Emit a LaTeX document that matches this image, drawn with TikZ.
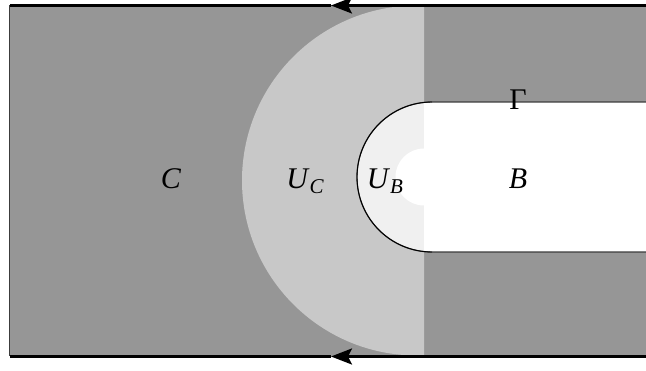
\documentclass[tikz,border=0pt]{standalone}
\usepackage{fontspec}
\setmainfont{Liberation Serif}
\usetikzlibrary{arrows.meta}
\definecolor{outer}{HTML}{969696}
\definecolor{nbhdC}{HTML}{C8C8C8}
\definecolor{nbhdB}{HTML}{F0F0F0}
\definecolor{edge}{HTML}{3C3C3C}
\newcommand{\sublbl}[2]{\textit{#1}\raisebox{-5pt}{\fontsize{21}{24}\selectfont\textit{#2}}}
\tikzset{bdry/.style={draw=black,line width=2.5pt},flowtip/.style={-{Stealth[length=21pt,width=16pt,inset=4pt]}},gammaline/.style={draw=edge,line width=1.2pt},tag/.style={font=\fontsize{30}{34}\selectfont,inner sep=0pt,anchor=base}}

\begin{document}
\begin{tikzpicture}[x=1pt,y=-1pt]
\useasboundingbox (0,0) rectangle (646,371);
% regions
\fill[outer] (9.5,5.5) rectangle (646,356.5);
\begin{scope}
\clip (9.5,5.5) rectangle (424,356.5);
\fill[nbhdC] (417,180.5) circle[radius=175];
\fill[nbhdB] (432,177) circle[radius=75];
\end{scope}
\fill[white] (424,102) rectangle (646,252);
\fill[white] (424,177) circle[radius=28.5];
% boundary
\coordinate (tl) at (9.5,5.5);\coordinate (tr) at (646,5.5);
\coordinate (bl) at (9.5,356.5);\coordinate (br) at (646,356.5);
\coordinate (ttip) at (331,5.5);\coordinate (btip) at (331,356.5);
\draw[edge,line width=1pt] (tl)--(bl);
\draw[bdry,flowtip] (tr)--(ttip);\draw[bdry] (ttip)--(tl);
\draw[bdry,flowtip] (br)--(btip);\draw[bdry] (btip)--(bl);
\draw[gammaline] (646,102)--(432,102) arc[start angle=270,end angle=90,radius=75]--(646,252);
\draw[black,line width=0.9pt] (432,102) arc[start angle=270,end angle=90,radius=75];
% labels
\node[tag] (C) at (171,189) {\textit{C}};
\node[tag] (UC) at (305,189) {\sublbl{U}{C}};
\node[tag] (UB) at (385,189) {\sublbl{U}{B}};
\node[tag] (B) at (518,189) {\textit{B}};
\node[tag] (G) at (518,110) {Γ};
\end{tikzpicture}
\end{document}
